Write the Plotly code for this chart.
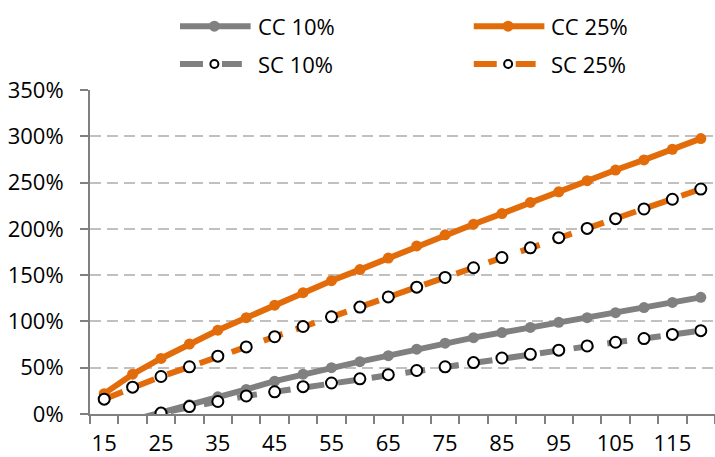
import plotly.graph_objects as go

# Series data (fractions; 1.0 = 100%)
ages = [15, 20, 25, 30, 35, 40, 45, 50, 55, 60, 65, 70, 75, 80, 85, 90, 95, 100, 105, 110, 115, 120]
cc_10 = [-0.15, -0.07, 0.02, 0.10, 0.185, 0.265, 0.355, 0.43, 0.50, 0.565, 0.63, 0.70,
         0.765, 0.825, 0.88, 0.935, 0.99, 1.04, 1.095, 1.15, 1.205, 1.26]
cc_25 = [0.22, 0.43, 0.60, 0.755, 0.905, 1.04, 1.175, 1.31, 1.44, 1.56, 1.685, 1.815,
         1.935, 2.05, 2.165, 2.285, 2.40, 2.52, 2.635, 2.745, 2.86, 2.975]
sc_10 = [-0.13, -0.07, 0.01, 0.08, 0.135, 0.195, 0.24, 0.295, 0.335, 0.38, 0.425, 0.47,
         0.51, 0.555, 0.605, 0.645, 0.69, 0.735, 0.775, 0.815, 0.86, 0.90]
sc_25 = [0.16, 0.29, 0.405, 0.51, 0.625, 0.725, 0.835, 0.945, 1.05, 1.155, 1.265, 1.37,
         1.475, 1.58, 1.69, 1.795, 1.905, 2.005, 2.11, 2.215, 2.32, 2.43]
tick_ages = ages[::2]
y_ticks = [0, 0.5, 1.0, 1.5, 2.0, 2.5, 3.0, 3.5]

GREY = "#808080"
ORANGE = "#E36C0A"
FONT = "Open Sans"
DASH = "20px,14px"

# category boundaries, used for the tick marks between labels
step = ages[1] - ages[0]
bounds = [a - step / 2 for a in ages] + [ages[-1] + step / 2]

fig = go.Figure()


def solid(name, y, color):
    fig.add_trace(go.Scatter(
        x=ages, y=y, name=name, mode="lines+markers",
        line=dict(color=color, width=6),
        marker=dict(color=color, size=11, line=dict(width=0)),
    ))


def dashed(name, y, color):
    fig.add_trace(go.Scatter(
        x=ages, y=y, name=name, mode="lines+markers",
        line=dict(color=color, width=6, dash=DASH),
        marker=dict(color="white", size=11, line=dict(color="black", width=2)),
    ))


solid("CC 10%", cc_10, GREY)
solid("CC 25%", cc_25, ORANGE)
dashed("SC 10%", sc_10, GREY)
dashed("SC 25%", sc_25, ORANGE)

# Legend drawn as shapes + text above the plot area (paper coordinates)
legend_items = [
    ("CC 10%", GREY, False, 0.144, 1.197),
    ("CC 25%", ORANGE, False, 0.614, 1.197),
    ("SC 10%", GREY, True, 0.144, 1.080),
    ("SC 25%", ORANGE, True, 0.614, 1.080),
]
sym_w = 0.113
for label, color, open_marker, x0, yy in legend_items:
    x1 = x0 + (0.099 if open_marker else sym_w)
    fig.add_shape(type="line", xref="paper", yref="paper",
                  x0=x0, x1=x1, y0=yy, y1=yy,
                  line=dict(color=color, width=6,
                            dash="23px,19px" if open_marker else "solid"))
    r = 4 if open_marker else 5.5
    fig.add_shape(type="circle", xref="paper", yref="paper",
                  xsizemode="pixel", ysizemode="pixel",
                  xanchor=x0 + 0.055, yanchor=yy,
                  x0=-r, x1=r, y0=-r, y1=r,
                  fillcolor="white" if open_marker else color,
                  line=dict(color="black" if open_marker else color,
                            width=2 if open_marker else 0))
    fig.add_annotation(text=label, xref="paper", yref="paper",
                       x=x0 + sym_w + 0.008, y=yy, xanchor="left", yanchor="middle",
                       showarrow=False, font=dict(family=FONT, size=22, color="black"))

fig.update_layout(
    width=715, height=457,
    margin=dict(l=90, r=0, t=90, b=43),
    paper_bgcolor="white", plot_bgcolor="white",
    showlegend=False,
    font=dict(family=FONT, size=22, color="black"),
)
fig.update_xaxes(
    range=[bounds[0], bounds[-1]],
    tickmode="array", tickvals=tick_ages, ticktext=[str(a) for a in tick_ages],
    ticks="", showgrid=False, zeroline=False,
    showline=True, linecolor=GREY, linewidth=2,
    minor=dict(tickmode="array", tickvals=bounds, ticks="outside",
               ticklen=8, tickwidth=1.5, tickcolor=GREY, showgrid=False),
    ticklabelstandoff=9,
    automargin=False,
    tickfont=dict(family=FONT, size=22, color="black"),
)
fig.update_yaxes(
    range=[0, 3.5],
    tickmode="array", tickvals=y_ticks, tickformat=".0%",
    ticks="outside", ticklen=8, tickwidth=2, tickcolor=GREY,
    showline=True, linecolor=GREY, linewidth=2,
    showgrid=True, gridcolor="#C0C0C0", gridwidth=2, griddash="11px,6px",
    zeroline=False,
    ticklabelstandoff=12,
    automargin=False,
    tickfont=dict(family=FONT, size=22, color="black"),
)

fig.write_html("out.html")
